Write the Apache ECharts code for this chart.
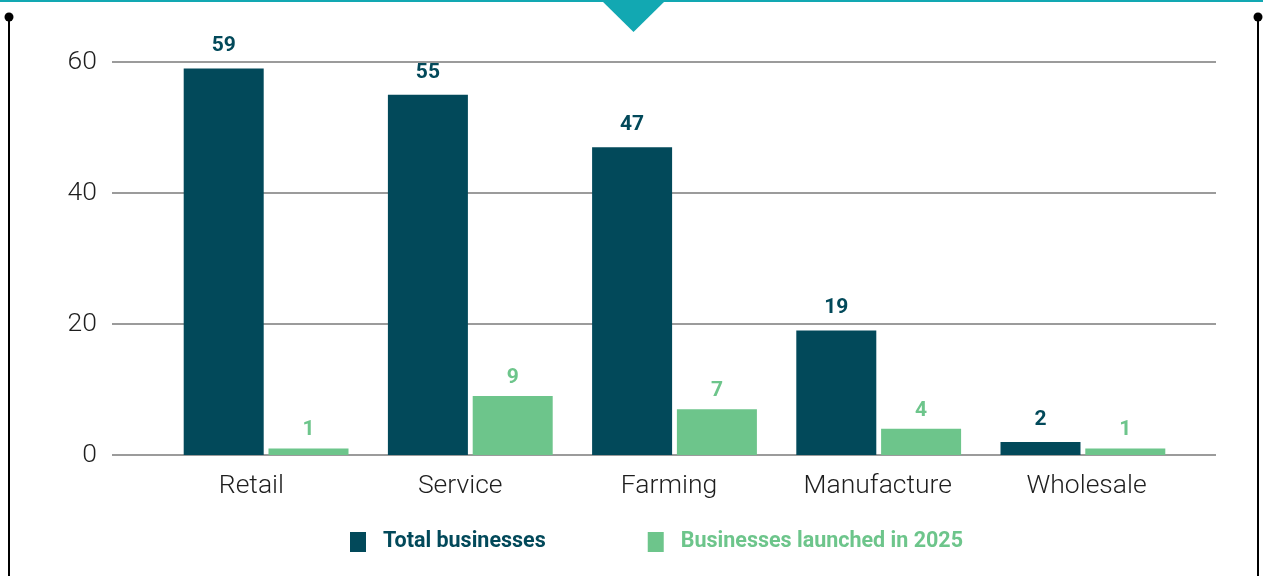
<!DOCTYPE html>
<html>
<head>
<meta charset="utf-8">
<style>
  html, body { margin: 0; padding: 0; background: #ffffff; }
  #chart { width: 1263px; height: 576px; }
</style>
<script src="https://cdn.jsdelivr.net/npm/echarts@6/dist/echarts.min.js"></script>
</head>
<body>
<div id="chart"></div>
<script>
// Business counts by sector
const categories = ['Retail', 'Service', 'Farming', 'Manufacture', 'Wholesale'];
const totalBusinesses = [59, 55, 47, 19, 2];
const launched2025 = [1, 9, 7, 4, 1];
const yTicks = { min: 0, max: 60, interval: 20 };
const seriesNames = ['Total businesses', 'Businesses launched in 2025'];

const DARK = '#02495a';
const GREEN = '#6dc58b';
const TEAL = '#12a8b2';
const FONT = 'Roboto';

const chart = echarts.init(document.getElementById('chart'), null, { renderer: 'canvas' });

const hiddenY = (gridIndex) => ({
  type: 'value', gridIndex, min: yTicks.min, max: yTicks.max, interval: yTicks.interval,
  show: false, splitLine: { show: false }
});

chart.setOption({
  animation: false,
  backgroundColor: '#ffffff',
  textStyle: { fontFamily: FONT },
  grid: [
    // value axis and gridlines
    { left: 112, right: 47, top: 62, bottom: 121 },
    // bars
    { left: 164, right: 78, top: 62, bottom: 121 },
    // category labels
    { left: 147, right: 72, top: 62, bottom: 121 }
  ],
  xAxis: [
    { type: 'category', gridIndex: 0, data: categories, show: false },
    { type: 'category', gridIndex: 1, data: categories, show: false },
    {
      type: 'category', gridIndex: 2, data: categories,
      axisLine: { show: false }, axisTick: { show: false },
      axisLabel: { fontFamily: FONT, fontWeight: 300, fontSize: 26.5, color: '#1e1e1e', margin: 18 }
    }
  ],
  yAxis: [
    {
      type: 'value', gridIndex: 0, min: yTicks.min, max: yTicks.max, interval: yTicks.interval,
      axisLine: { show: false }, axisTick: { show: false },
      axisLabel: { fontFamily: FONT, fontWeight: 300, fontSize: 26.5, color: '#1e1e1e', margin: 15 },
      splitLine: { show: true, lineStyle: { color: '#7a7a7a', width: 1.5 } }
    },
    hiddenY(1),
    hiddenY(2)
  ],
  legend: {
    left: 345, top: 526,
    itemWidth: 16, itemHeight: 20, itemGap: 102,
    icon: 'rect',
    selectedMode: false,
    data: [
      { name: seriesNames[0], textStyle: { color: DARK } },
      { name: seriesNames[1], textStyle: { color: GREEN } }
    ],
    textStyle: { fontFamily: FONT, fontWeight: 'bold', fontSize: 21.5, padding: [0, 0, 0, 12] }
  },
  series: [
    {
      name: seriesNames[0], type: 'bar', xAxisIndex: 1, yAxisIndex: 1,
      data: totalBusinesses, barWidth: 80, barGap: '6%',
      itemStyle: { color: DARK },
      label: { show: true, position: 'top', distance: 12, color: DARK, fontFamily: FONT, fontWeight: 'bold', fontSize: 21 }
    },
    {
      name: seriesNames[1], type: 'bar', xAxisIndex: 1, yAxisIndex: 1,
      data: launched2025, barWidth: 80, barGap: '6%',
      itemStyle: { color: GREEN },
      label: { show: true, position: 'top', distance: 8, color: GREEN, fontFamily: FONT, fontWeight: 'bold', fontSize: 21 }
    }
  ],
  graphic: [
    // top band with pointer
    { type: 'rect', shape: { x: 0, y: 0, width: 1263, height: 2 }, style: { fill: TEAL }, silent: true },
    { type: 'polygon', shape: { points: [[601, 0], [666, 0], [633.5, 32]] }, style: { fill: TEAL }, silent: true },
    // side rails with end dots
    { type: 'line', shape: { x1: 9, y1: 17, x2: 9, y2: 576 }, style: { stroke: '#000000', lineWidth: 2 }, silent: true },
    { type: 'circle', shape: { cx: 9, cy: 17, r: 4.5 }, style: { fill: '#000000' }, silent: true },
    { type: 'line', shape: { x1: 1258, y1: 17, x2: 1258, y2: 576 }, style: { stroke: '#000000', lineWidth: 2 }, silent: true },
    { type: 'circle', shape: { cx: 1258, cy: 17, r: 4.5 }, style: { fill: '#000000' }, silent: true }
  ]
});
</script>
</body>
</html>
